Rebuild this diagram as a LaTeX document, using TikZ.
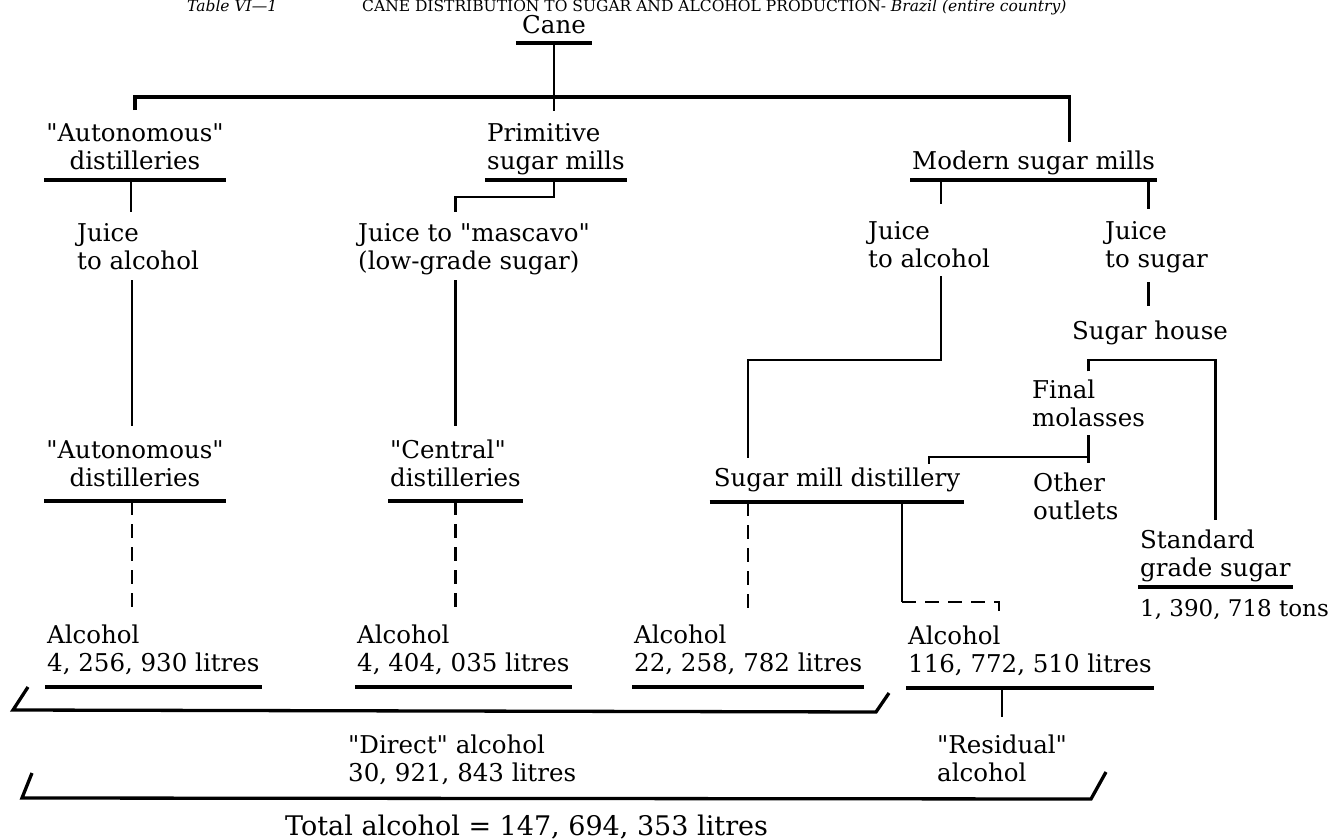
\documentclass[tikz,border=0pt]{standalone}
\usepackage{fontspec}
\setmainfont{DejaVu Serif}[Ligatures=TeXOff]
\usetikzlibrary{calc}
\tikzset{
	lbl/.style={inner sep=0pt, text depth=0pt, align=left, font=\fontsize{24.5}{28.5}\selectfont},
	ulbl/.style={lbl, text depth=10pt, inner xsep=2pt},
	link/.style={line width=2.5pt},
	dlink/.style={link, dash pattern=on 14pt off 9pt},
	rule/.style={line width=3.3pt},
}
\def\underl#1{\draw[rule] (#1.south west) -- (#1.south east);}

\begin{document}
\begin{tikzpicture}[x=1pt, y=-1pt]
			%%%%% START %%%%%
			\useasboundingbox (0, 0) rectangle (1333, 840);
			
			\node[anchor=base west, inner sep=0pt, font=\fontsize{15.5}{18}\selectfont] (title) at (187, 11.5) {\makebox[175pt][l]{\textit{Table VI—1}}CANE DISTRIBUTION TO SUGAR AND ALCOHOL PRODUCTION- \textit{Brazil (entire country)}};
			
			% first row
			\node[ulbl, anchor=south, inner xsep=6pt, text depth=9pt] (cane) at (554, 43) {Cane};
			\node[ulbl, anchor=south, align=center] (autoA) at (135, 180) {"Autonomous"\\distilleries};
			\node[ulbl, anchor=south west] (prim) at (485, 180) {Primitive\\sugar mills};
			\node[ulbl, anchor=south west] (modern) at (910, 180) {Modern sugar mills};
			\underl{cane}
			\underl{autoA}
			\underl{prim}
			\underl{modern}
			
			\draw[link] (cane.south) -- ([yshift=12pt]cane.south |- prim.north);
			\draw[rule] ([yshift=13pt]autoA.north) |- ([yshift=-54pt]cane.south) -| ([xshift=36pt, yshift=9pt]modern.north);
			
			% juices
			\node[lbl, anchor=south west] (juiceA) at (77, 270) {Juice\\to alcohol};
			\node[lbl, anchor=south west] (masc) at (358, 270) {Juice to "mascavo"\\(low-grade sugar)};
			\node[lbl, anchor=south west] (juiceB) at (868, 268) {Juice\\to alcohol};
			\node[lbl, anchor=south west] (juiceS) at (1105, 268) {Juice\\to sugar};
			\node[lbl, anchor=south] (house) at (1150, 340) {Sugar house};
			
			% distilleries
			\node[ulbl, anchor=south, align=center, text depth=14pt] (autoB) at (135, 501) {"Autonomous"\\distilleries};
			\node[ulbl, anchor=south west, text depth=14pt] (central) at (388, 501) {"Central"\\distilleries};
			\node[ulbl, anchor=south, inner xsep=4pt, text depth=15pt] (smd) at (837, 502) {Sugar mill distillery};
			\node[lbl, anchor=south west] (molasses) at (1032, 427) {Final\\molasses};
			\node[lbl, anchor=south west] (other) at (1033, 520) {Other\\outlets};
			\node[ulbl, anchor=south west] (std) at (1138, 587) {Standard\\grade sugar};
			\node[lbl, anchor=south west, font=\fontsize{23}{28.5}\selectfont] (tons) at (1140, 617) {1, 390, 718 tons};
			\underl{autoB}
			\underl{central}
			\underl{smd}
			\underl{std}
			
			% alcohol
			\node[ulbl, anchor=south west, text depth=15pt] (alcA) at (45, 687) {Alcohol\\4, 256, 930 litres};
			\node[ulbl, anchor=south west, text depth=15pt] (alcB) at (355, 687) {Alcohol\\4, 404, 035 litres};
			\node[ulbl, anchor=south west, text depth=15pt] (alcC) at (632, 687) {Alcohol\\22, 258, 782 litres};
			\node[ulbl, anchor=south west, text depth=15pt] (alcD) at (906, 688) {Alcohol\\116, 772, 510 litres};
			\underl{alcA}
			\underl{alcB}
			\underl{alcC}
			\underl{alcD}
			
			\draw[link, shorten >=11pt] ([xshift=-4pt]autoA.south) -- ([xshift=-4pt]autoA.south |- juiceA.north);
			\draw[link, shorten <=10pt, shorten >=14pt] ([xshift=-3pt]autoB.north |- juiceA.south) -- ([xshift=-3pt]autoB.north);
			\draw[link, shorten >=11pt] (cane.south |- prim.south) -- ++(0, 17) -| (central.north |- masc.north);
			\draw[link, shorten <=10pt, shorten >=13pt] (central.north |- masc.south) -- (central.north);
			\draw[link, shorten >=17pt] ([xshift=12pt]juiceB.north |- modern.south) -- ([xshift=12pt]juiceB.north);
			\draw[link, shorten >=12pt] ([xshift=-8pt]juiceS.north |- modern.south) -- ([xshift=-8pt]juiceS.north);
			\draw[link, shorten <=8pt, shorten >=10pt] ([xshift=12pt]juiceB.south) -- ++(0, 92) -| (alcC.north |- smd.north);
			\draw[link, shorten <=14pt, shorten >=15pt] ([xshift=-8pt]juiceS.south) -- ([xshift=-8pt]juiceS.south |- house.north);
			\draw[link] ([yshift=8pt]molasses.north) |- ([yshift=-20pt]house.south) -| ([yshift=9pt]std.north);
			\draw[link, shorten <=8pt, shorten >=9pt] (molasses.south) -- (molasses.south |- other.north);
			\draw[link, shorten >=4pt] ([yshift=-30pt]molasses.south) -| (juiceB.south |- smd.north);
			
			\draw[dlink, shorten >=10pt] ([xshift=-3pt]autoB.south) -- ([xshift=-3pt]autoB.south |- alcA.north);
			\draw[dlink, shorten >=15pt] (central.south) -- (central.south |- alcB.north);
			\draw[dlink, shorten >=9pt] (alcC.north |- smd.south) -- (alcC.north);
			\draw[link] ([xshift=65pt]smd.south) -- ([xshift=65pt, yshift=-100pt]smd.south);
			\draw[dlink] ([xshift=65pt, yshift=-100pt]smd.south) -| ([xshift=-31pt, yshift=8pt]alcD.north);
			
			% totals
			\node[lbl, anchor=south west] (direct) at (348, 782) {"Direct" alcohol\\30, 921, 843 litres};
			\node[lbl, anchor=south west] (resid) at (937, 782) {"Residual"\\alcohol};
			\node[lbl, anchor=base west, font=\fontsize{27}{30}\selectfont] (total) at (285, 835) {Total alcohol = 147, 694, 353 litres};
			
			\draw[link, shorten >=17pt] (resid.north |- alcD.south) -- (resid.north);
			\draw[rule] (28, 687) -- (13, 710) -- (876, 712) -- (889, 693);
			\draw[rule] (32, 773) -- (22, 798) -- (1091, 799) -- (1106, 772);
			
			%%%%% END %%%%%
\end{tikzpicture}
\end{document}
